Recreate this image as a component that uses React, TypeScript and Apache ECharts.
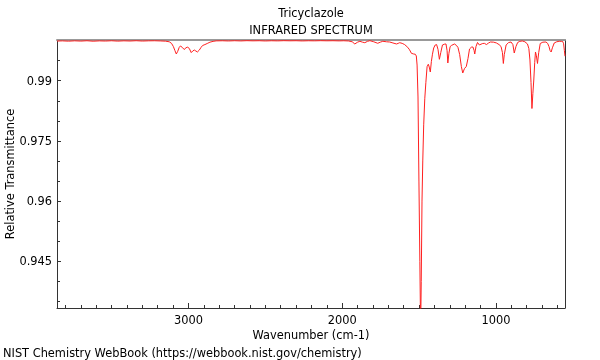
import React, { useEffect, useRef } from "react";
import * as echarts from "echarts";

const titleLines = ["Tricyclazole", "INFRARED SPECTRUM"];
const xAxisTitle = "Wavenumber (cm-1)";
const yAxisTitle = "Relative Transmittance";
const footer = "NIST Chemistry WebBook (https://webbook.nist.gov/chemistry)";

const xMajorTicks = [1000, 2000, 3000];
const xMinorTicks = [600, 700, 800, 900, 1000, 1100, 1200, 1300, 1400, 1500, 1600, 1700, 1800, 1900, 2000, 2100, 2200, 2300, 2400, 2500, 2600, 2700, 2800, 2900, 3000, 3100, 3200, 3300, 3400, 3500, 3600, 3700, 3800];
const yMajorTicks = [0.945, 0.96, 0.975, 0.99];
const yMinorTicks = [0.935, 0.94, 0.945, 0.95, 0.955, 0.96, 0.965, 0.97, 0.975, 0.98, 0.985, 0.99, 0.995];

const wavenumbers = [
  3855, 3820, 3780, 3740, 3700, 3660, 3620, 3580, 3540, 3500, 3460, 3420, 3380, 3340, 3300, 3260, 3220, 3180, 3150, 3125,
  3110, 3098, 3088, 3079, 3070, 3060, 3052, 3040, 3028, 3016, 3005, 2993, 2982, 2972, 2962, 2952, 2942, 2930, 2918, 2908,
  2893, 2878, 2860, 2840, 2820, 2780, 2740, 2700, 2660, 2620, 2580, 2540, 2500, 2460, 2420, 2380, 2340, 2300, 2260, 2220,
  2180, 2140, 2100, 2060, 2020, 1990, 1960, 1935, 1918, 1900, 1885, 1868, 1853, 1836, 1820, 1795, 1769, 1752, 1736, 1712,
  1691, 1670, 1647, 1636, 1626, 1610, 1594, 1574, 1562, 1550, 1535, 1525, 1518, 1513, 1507, 1501, 1495, 1490, 1486, 1481,
  1476, 1470, 1463, 1456, 1448, 1440, 1434, 1427, 1420, 1413, 1405, 1395, 1386, 1377, 1368, 1359, 1348, 1335, 1325, 1318,
  1313, 1306, 1298, 1290, 1270, 1257, 1247, 1236, 1225, 1216, 1205, 1193, 1182, 1172, 1160, 1150, 1142, 1138, 1130, 1120,
  1108, 1097, 1086, 1075, 1062, 1048, 1036, 1015, 997, 980, 967, 958, 952, 946, 934, 918, 902, 890, 881, 870,
  859, 845, 829, 812, 795, 786, 779, 772, 766, 760, 754, 748, 743, 737, 730, 722, 712, 695, 675, 664,
  655, 648, 641, 633, 621, 605, 589, 575, 566, 560, 555, 551,
];

const transmittance = [
  0.99988, 0.99992, 0.99985, 0.99993, 0.99987, 0.99995, 0.99984, 0.99992, 0.99988, 0.99995, 0.99986, 0.99993, 0.99989, 0.99996, 0.99988, 0.99993, 0.99995, 0.9999, 0.99985, 0.9997,
  0.9993, 0.9985, 0.9975, 0.99665, 0.9973, 0.9983, 0.99865, 0.9983, 0.99777, 0.9982, 0.9984, 0.9979, 0.997, 0.9974, 0.99765, 0.9974, 0.99715, 0.9976, 0.9983, 0.99877,
  0.999, 0.99927, 0.9996, 0.9998, 0.99992, 0.99995, 0.9999, 0.99996, 0.99991, 0.99997, 0.99993, 0.99996, 0.9999, 0.99995, 0.99992, 0.99997, 0.99994, 0.99996, 0.99991, 0.99995,
  0.99993, 0.99997, 0.99994, 0.99996, 0.99992, 0.99995, 0.9999, 0.9997, 0.99915, 0.9996, 0.99982, 0.9996, 0.99947, 0.9998, 0.99997, 0.9997, 0.99932, 0.9996, 0.99982, 0.9997,
  0.99964, 0.9994, 0.99915, 0.9993, 0.99947, 0.9993, 0.999, 0.99832, 0.9977, 0.99683, 0.99665, 0.9966, 0.99616, 0.9939, 0.98594, 0.965, 0.945, 0.928, 0.94, 0.96,
  0.97, 0.979, 0.9855, 0.9895, 0.9935, 0.9941, 0.9934, 0.99217, 0.9948, 0.9966, 0.99815, 0.9989, 0.999, 0.9978, 0.99533, 0.997, 0.9989, 0.9991, 0.99915, 0.9975,
  0.99441, 0.9968, 0.9985, 0.99877, 0.99915, 0.9988, 0.99827, 0.9965, 0.9935, 0.99192, 0.993, 0.99354, 0.9955, 0.9979, 0.99835, 0.9984, 0.9975, 0.99665, 0.9985, 0.99952,
  0.9989, 0.9991, 0.99927, 0.9993, 0.999, 0.9994, 0.99964, 0.9996, 0.9994, 0.999, 0.99852, 0.997, 0.99429, 0.9965, 0.9989, 0.9995, 0.99964, 0.999, 0.9969, 0.9985,
  0.99952, 0.9998, 0.9999, 0.9997, 0.99915, 0.998, 0.99516, 0.9895, 0.98307, 0.9868, 0.99017, 0.9945, 0.99715, 0.9962, 0.99429, 0.997, 0.99927, 0.9996, 0.99964, 0.9993,
  0.9985, 0.9975, 0.99715, 0.9982, 0.9994, 0.9997, 0.99982, 0.9998, 0.99977, 0.9992, 0.9975, 0.9961,
];

const FONT = "DejaVu Sans";
const FS = 11.4;
const AXIS_COLOR = "#333";

export default function App() {
  const ref = useRef<HTMLDivElement>(null);
  useEffect(() => {
    if (!ref.current) return;
    const chart = echarts.init(ref.current, undefined, { renderer: "svg" });
    const xMin = 551;
    const xMax = 3855;
    const yMin = 0.93336;
    const yMax = 1.00014;
    const fmt = (v: number) => String(+Number(v).toFixed(3));
    const textStyle = (text: string, align: string) => ({
      text, fill: "#000", font: `${FS}px "${FONT}"`, textAlign: align, textVerticalAlign: "middle",
    });
    chart.setOption({
      animation: false,
      grid: { left: 57, right: 35, top: 40, bottom: 52, containLabel: false, outerBoundsMode: "none" },
      xAxis: [
        {
          type: "value", min: xMin, max: xMax, inverse: true, position: "bottom",
          axisLine: { show: true, lineStyle: { color: AXIS_COLOR, width: 1 } },
          axisTick: { show: true, inside: true, length: 5, customValues: xMajorTicks, lineStyle: { color: AXIS_COLOR } },
          axisLabel: { show: true, customValues: xMajorTicks, margin: 6, color: "#000", fontFamily: FONT, fontSize: FS, formatter: fmt },
          splitLine: { show: false },
          name: xAxisTitle, nameLocation: "middle", nameGap: 17,
          nameTextStyle: { color: "#000", fontFamily: FONT, fontSize: FS, verticalAlign: "top" },
        },
        {
          type: "value", min: xMin, max: xMax, inverse: true, position: "bottom",
          axisLine: { show: false },
          axisTick: { show: true, inside: true, length: 3, customValues: xMinorTicks, lineStyle: { color: AXIS_COLOR } },
          axisLabel: { show: false },
          splitLine: { show: false },
        },
        {
          type: "value", min: xMin, max: xMax, inverse: true, position: "top",
          axisLine: { show: true, lineStyle: { color: "#999", width: 2 } },
          axisTick: { show: false }, axisLabel: { show: false }, splitLine: { show: false },
        },
      ],
      yAxis: [
        {
          type: "value", min: yMin, max: yMax, position: "left",
          axisLine: { show: true, lineStyle: { color: AXIS_COLOR, width: 1 } },
          axisTick: { show: true, inside: true, length: 4, customValues: yMajorTicks, lineStyle: { color: AXIS_COLOR } },
          axisLabel: { show: true, customValues: yMajorTicks, margin: 5, color: "#000", fontFamily: FONT, fontSize: FS, formatter: fmt },
          splitLine: { show: false },
        },
        {
          type: "value", min: yMin, max: yMax, position: "left",
          axisLine: { show: false },
          axisTick: { show: true, inside: true, length: 3, customValues: yMinorTicks, lineStyle: { color: AXIS_COLOR } },
          axisLabel: { show: false },
          splitLine: { show: false },
        },
        {
          type: "value", min: yMin, max: yMax, position: "right",
          axisLine: { show: true, lineStyle: { color: AXIS_COLOR, width: 1 } },
          axisTick: { show: false }, axisLabel: { show: false }, splitLine: { show: false },
        },
      ],
      graphic: [
        { type: "text", x: 311, y: 13, style: textStyle(titleLines[0], "center") },
        { type: "text", x: 311, y: 30, style: textStyle(titleLines[1], "center") },
        { type: "text", x: 10, y: 174, rotation: Math.PI / 2, style: textStyle(yAxisTitle, "center") },
        { type: "text", x: 3, y: 353, style: textStyle(footer, "left") },
      ],
      series: [
        {
          type: "line",
          xAxisIndex: 0,
          yAxisIndex: 0,
          data: wavenumbers.map((w, i) => [w, transmittance[i]]),
          showSymbol: false,
          smooth: false,
          clip: true,
          lineStyle: { color: "#ff2020", width: 1 },
          z: 1,
        },
      ],
    });
    return () => chart.dispose();
  }, []);
  return <div ref={ref} style={{ position: "fixed", left: 0, top: 0, width: 600, height: 360 }} />;
}
